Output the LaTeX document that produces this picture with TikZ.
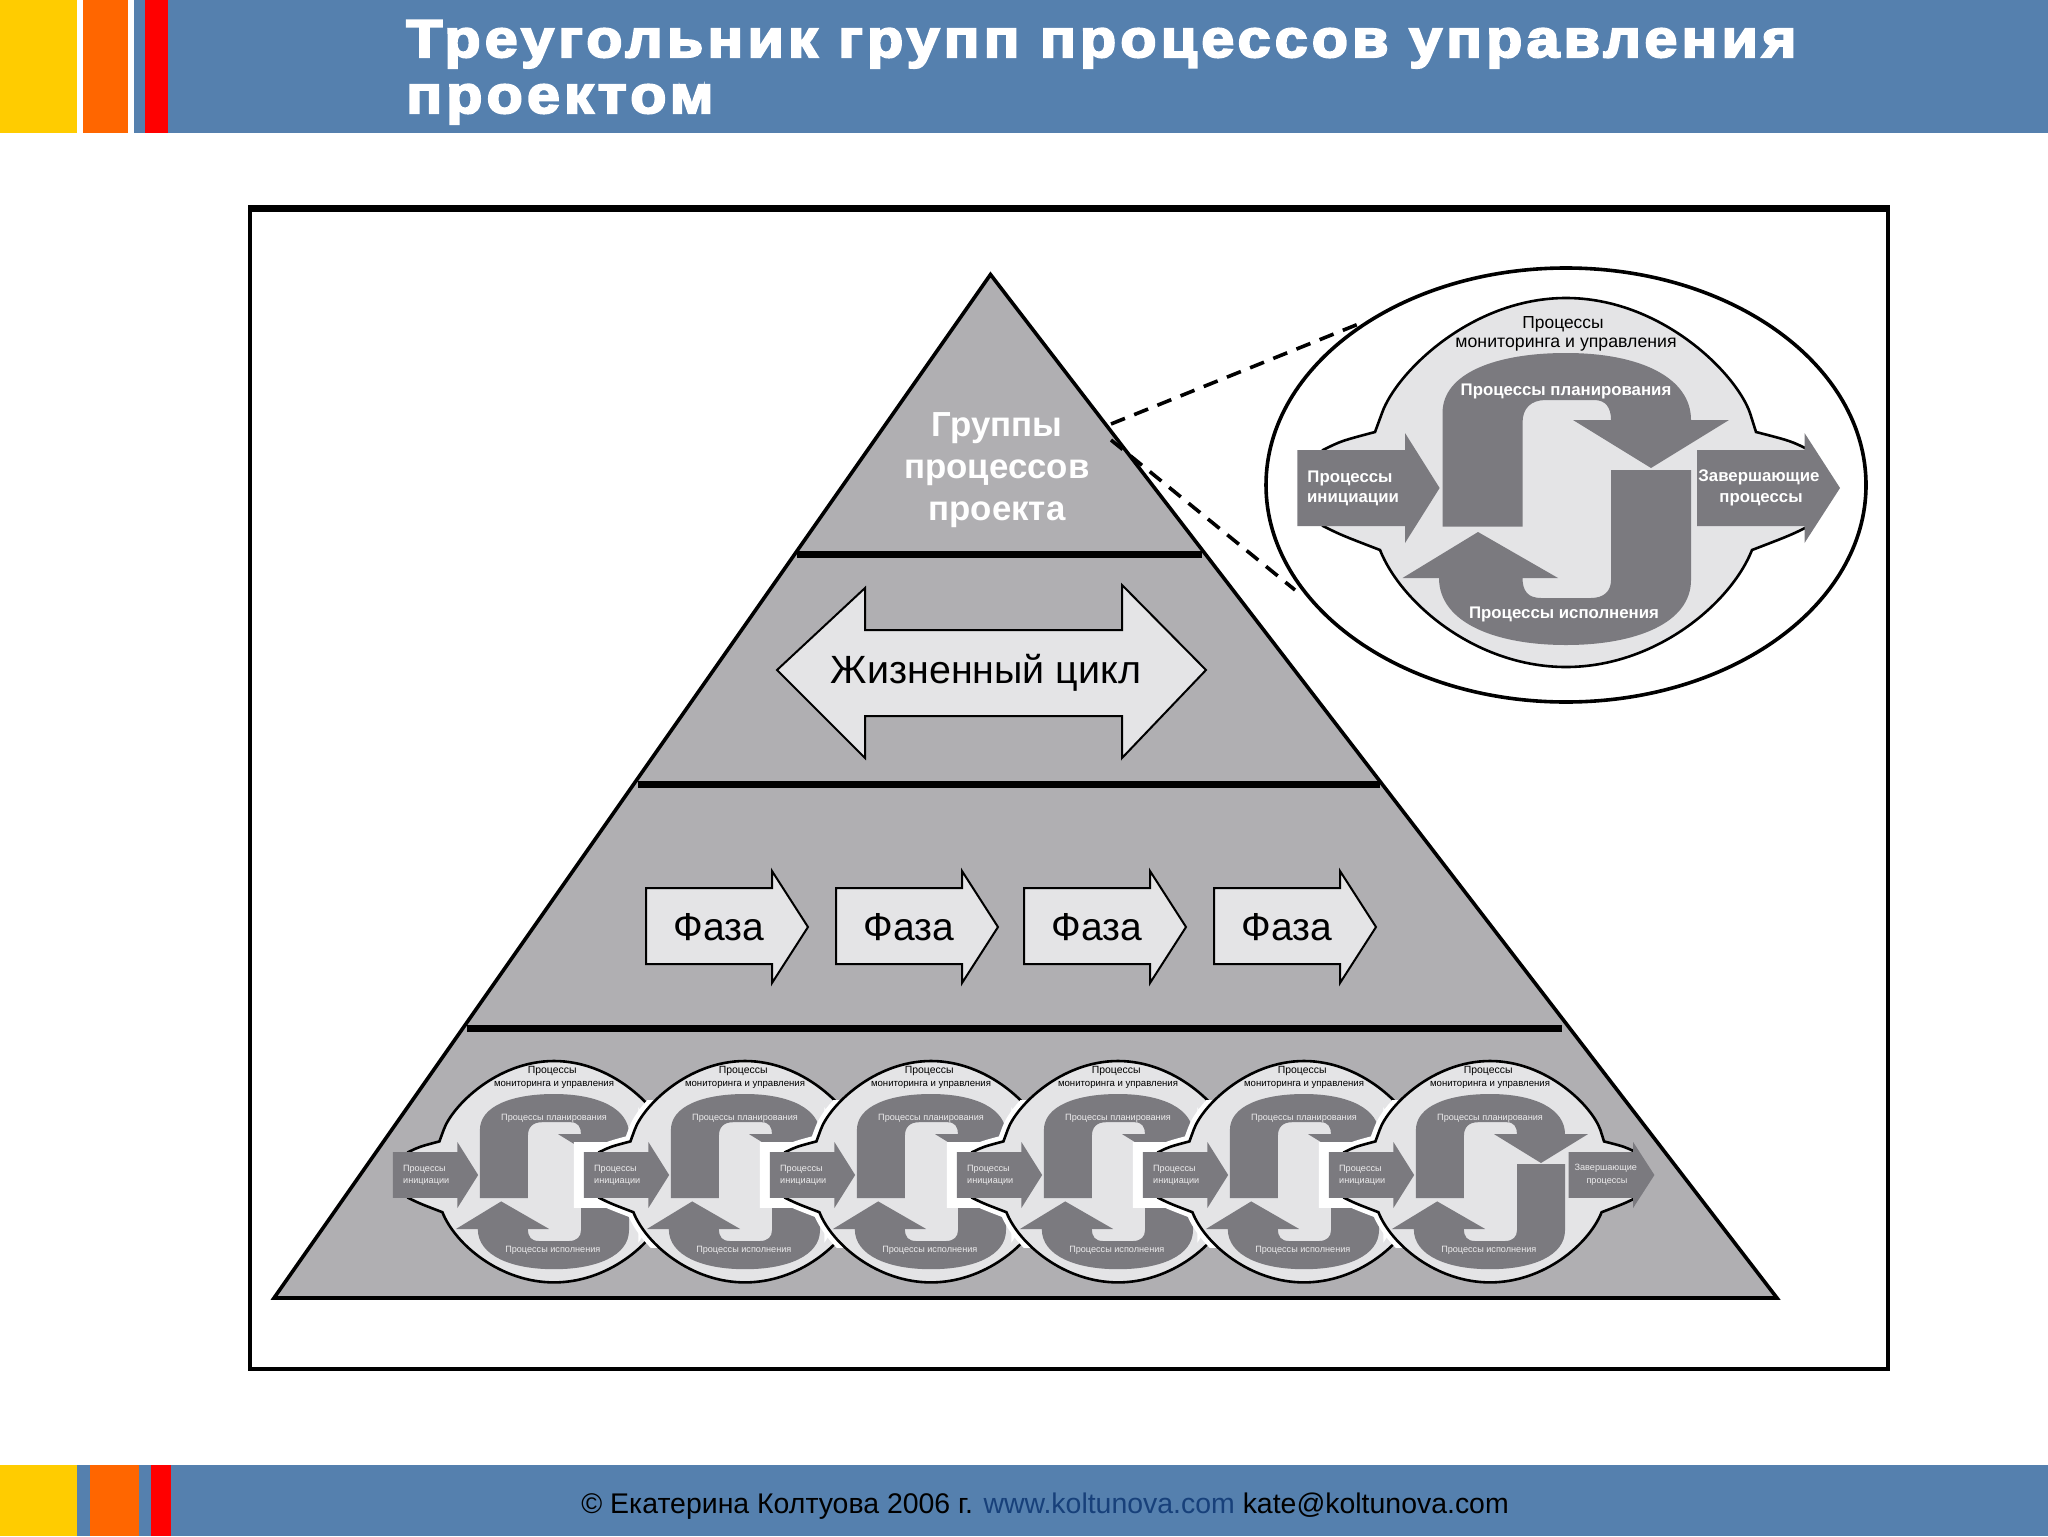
\documentclass[tikz,border=0pt]{standalone}
\usepackage{fontspec}
\setmainfont{Liberation Sans}
\newfontfamily\titlefont[LetterSpace=8,FakeStretch=1.115,FakeBold=4]{Liberation Sans}
\definecolor{bandblue}{HTML}{5580AE}
\definecolor{linkblue}{HTML}{17407A}
\definecolor{bandyellow}{HTML}{FFCC00}
\definecolor{bandorange}{HTML}{FF6600}
\definecolor{pyrgray}{HTML}{B0AFB2}
\definecolor{blobgray}{HTML}{E4E4E6}
\definecolor{flowgray}{HTML}{7B7A7F}
\newcommand{\blobpath}{(-243,-38) .. controls (-225,-47) .. (-191,-56) -- (-184,-75)
	.. controls (-170,-115) and (-95,-190) .. (0,-190)
	.. controls (95,-190) and (170,-115) .. (184,-75) -- (190,-56)
	.. controls (225,-47) .. (243,-38) -- (243,38)
	.. controls (225,47) .. (186,62) .. controls (165,115) and (90,179) .. (0,179)
	.. controls (-90,179) and (-165,115) .. (-186,62) .. controls (-225,47) .. (-243,38) -- cycle}
\newcommand{\initarrow}{(-268.7,-38) -- (-161,-38) -- (-161,-55) -- (-126.4,0) -- (-161,55) -- (-161,38) -- (-268.7,38) -- cycle}
\newcommand{\closearrow}{(131,-38) -- (238.5,-38) -- (238.5,-55) -- (274,0) -- (238.5,55) -- (238.5,38) -- (131,38) -- cycle}
\newcommand{\fpx}[1]{\fontsize{#1}{#1}\selectfont}
\begin{document}
\begin{tikzpicture}[x=0.5pt,y=-0.5pt,line cap=butt,
		band/.style={fill=#1,draw=none},
		pyrbar/.style={line width=3.5pt},
		flow/.style={fill=flowgray,draw=none},
		lightarrow/.style={fill=blobgray,draw=black,line width=1pt,line join=miter},
		zoomdash/.style={line width=1.8pt,dash pattern=on 7.5pt off 5pt},
		flowtext/.style={text=white,font=\bfseries\fpx{8.4},inner sep=0pt,transform shape},
		toptext/.style={text=black,font=\fpx{8.7},inner sep=0pt,transform shape},
		montext/.style={text=black,font=\fpx{8.85},inner sep=0pt,transform shape},
		procend/.pic={
			\path[flow] \closearrow;
			\node (a) [flowtext] at (193,-11) {Завершающие};
			\node (b) [flowtext] at (195,12) {процессы};
		},
		prochalo/.pic={
			\path[fill=white,draw=white,line width=10pt] \initarrow;
			\begin{scope}
				\clip (-400,-125) rectangle (0,120);
				\draw[white,line width=6pt] \blobpath;
			\end{scope}
		},
		procgroup/.pic={
			\draw[fill=blobgray,line width=1.3pt] \blobpath;
			\path[flow] (-123.5,38.7) -- (-123.5,-75) .. controls (-123.5,-115) and (-70,-135) .. (0,-135)
				.. controls (75,-135) and (125,-110) .. (125,-68) -- (163,-68) -- (85,-20) -- (7,-68) -- (45,-68)
				.. controls (45,-80) and (40,-88) .. (28,-88) -- (-20,-88)
				.. controls (-35,-88) and (-43.5,-80) .. (-43.5,-65) -- (-43.5,38.7) -- cycle;
			\path[flow] (45,-18) -- (125,-18) -- (125,92) .. controls (125,135) and (70,157) .. (0,157)
				.. controls (-70,157) and (-127,135) .. (-127,90) -- (-163.5,90) -- (-88,44) -- (-8,90) -- (-43.5,90)
				.. controls (-43.5,103) and (-38,110) .. (-25,110) -- (25,110)
				.. controls (38,110) and (45,103) .. (45,92) -- cycle;
			\path[flow] \initarrow;
			\node (top) [toptext] at (-3,\toply) {Процессы};
			\node (mon) [montext] at (0,\monly) {мониторинга и управления};
			\node (plan) [flowtext] at (0,\planly) {Процессы планирования};
			\node (exec) [flowtext] at (-2,126) {Процессы исполнения};
			\node (ia) [flowtext] at (-216,-10) {Процессы};
			\node (ib) [flowtext] at (-213,12) {инициации};
		}]
		\useasboundingbox (0,0) rectangle (2048,1536);
		% header and footer bands
		\path[band=bandblue] (0,0) rectangle (2048,133);
		\path[band=white] (76,0) rectangle (134,133);
		\path[band=bandyellow] (0,0) rectangle (76.5,133);
		\path[band=bandorange] (83,0) rectangle (128,133);
		\path[band=bandblue] (134,0) rectangle (145,133);
		\path[band=red] (145,0) rectangle (168,133);
		\path[band=bandblue] (0,1465) rectangle (2048,1536);
		\path[band=bandyellow] (0,1465) rectangle (77,1536);
		\path[band=bandorange] (90,1465) rectangle (139,1536);
		\path[band=red] (150.5,1465) rectangle (170.5,1536);
		\node (titlea) [anchor=base west,inner sep=0pt,text=white,font=\titlefont\bfseries\fpx{26.5}] at (406,57) {Треугольник групп процессов управления};
		\node (titleb) [anchor=base west,inner sep=0pt,text=white,font=\titlefont\bfseries\fpx{26.5}] at (406,113) {проектом};
		\node (foot) [anchor=base west,inner sep=0pt,font=\fpx{14.22}] at (581,1513) {© Екатерина Колтуова 2006 г. \textcolor{linkblue}{www.koltunova.com} kate@koltunova.com};
		% frame
		\draw[line width=1.8pt] (250,207) rectangle (1888,1369);
		\draw[line width=3.5pt] (248,208.5) -- (1889,208.5);
		% pyramid
		\draw[fill=pyrgray,line width=1.8pt,line join=miter] (990.5,274.5) -- (1777,1298) -- (274,1298) -- cycle;
		\draw[pyrbar] (797,554) -- (1202,554);
		\draw[pyrbar] (638,784) -- (1380,784);
		\draw[pyrbar] (467,1028) -- (1562,1028);
		\node (groups) [align=center,text=white,inner sep=0pt,font=\bfseries\fpx{17.4}] at (997,470) {Группы\\[3.6pt]процессов\\[3.6pt]проекта};
		\draw[lightarrow] (777,670) -- (865,588) -- (865,630) -- (1122,630) -- (1122,585) -- (1206,670)
			-- (1122,758) -- (1122,716) -- (865,716) -- (865,758) -- cycle;
		\node (life) [inner sep=0pt,font=\fpx{19.7}] at (986,673) {Жизненный цикл};
		\foreach \X [count=\Y] in {646,836,1024,1214}
		{\draw[lightarrow] (\X,888) -- ++(126,0) -- ++(0,-17) -- ++(36,56) -- ++(-36,56) -- ++(0,-19) -- ++(-126,0) -- cycle;
			\node (ph\Y) [inner sep=0pt,font=\fpx{19.5}] at (\X+73,927) {Фаза};}
		% small process groups
		\begin{scope}[flowtext/.style={text=white!86!flowgray,font=\fpx{7.6},inner sep=0pt,transform shape},
			montext/.style={text=black,font=\fpx{8},inner sep=0pt,transform shape}]
		\def\toply{-173}\def\monly{-151}\def\planly{-94}
		\foreach \X [count=\Y] in {554,745,931,1118,1304,1490}
		{\ifnum\Y>1 \pic at (\X,1175) [scale=0.6] {prochalo}; \fi
			\pic (pr\Y) at (\X,1175) [scale=0.6] {procgroup};}
		\pic (last) at (1490,1175) [scale=0.6] {procend};
		\end{scope}
		% zoomed process group
		\def\toply{-164}\def\monly{-143}\def\planly{-97}
		\draw[line width=1.8pt] (1566,485) ellipse [x radius=300,y radius=217];
		\pic (big) at (1566,488) {procgroup};
		\pic (bigend) at (1566,488) {procend};
		\coordinate (dashfrom) at (1111,424);
		\coordinate (dashfromb) at (1111,440);
		\coordinate (dashto) at (1361,323);
		\coordinate (dashtob) at (1295,590);
		\draw[zoomdash] (dashfrom) -- (dashto);
		\draw[zoomdash] (dashfromb) -- (dashtob);
		\end{tikzpicture}
\end{document}
